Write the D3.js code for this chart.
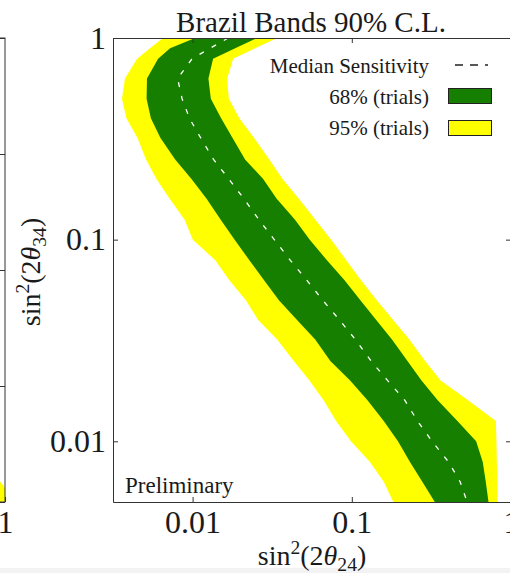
<!DOCTYPE html>
<html>
<head>
<meta charset="utf-8">
<script src="https://cdn.jsdelivr.net/npm/d3@7"></script>
<style>
  html, body { margin: 0; padding: 0; background: #fff; }
  svg { display: block; }
  text { font-family: "Liberation Serif", "DejaVu Serif", serif; fill: #1a1a1a; }
</style>
</head>
<body>
<svg id="chart" width="510" height="573"></svg>
<script>
// sin^2(2θ34) grid on which the sensitivity contours are evaluated
const sin2t34 = [1, 0.89, 0.79, 0.63, 0.50, 0.40, 0.32, 0.25, 0.20, 0.16, 0.126, 0.100,
  0.079, 0.063, 0.050, 0.040, 0.032, 0.025, 0.020, 0.016, 0.0126, 0.0100, 0.0079, 0.0063, 0.0050];

// sin^2(2θ24) reach: 95% band edges, 68% band edges and median
const band95Low = [0.00652, 0.00540, 0.00448, 0.00376, 0.00360, 0.00384, 0.00450, 0.00510, 0.00593,
  0.00716, 0.00889, 0.01003, 0.01389, 0.01697, 0.02161, 0.02581, 0.0340, 0.0432, 0.0542, 0.0665,
  0.0797, 0.0987, 0.1300, 0.1587, 0.1824];
const band68Low = [0.01037, 0.00722, 0.00607, 0.00517, 0.00514, 0.00547, 0.00627, 0.00777, 0.00984,
  0.01221, 0.01498, 0.01837, 0.02273, 0.02804, 0.03484, 0.0453, 0.0589, 0.0733, 0.0976, 0.1255,
  0.1587, 0.1950, 0.2319, 0.2772, 0.3322];
const medianSens = [0.01673, 0.01289, 0.00993, 0.00805, 0.00859, 0.00955, 0.01123, 0.01353, 0.01687,
  0.02093, 0.02604, 0.03260, 0.0411, 0.0521, 0.0658, 0.0836, 0.1052, 0.1322, 0.1680, 0.2151,
  0.2586, 0.3194, 0.4051, 0.4792, 0.5302];
const band68High = [0.02544, 0.01851, 0.01345, 0.01257, 0.01302, 0.01511, 0.01779, 0.02136, 0.02776,
  0.03365, 0.04386, 0.05443, 0.0698, 0.0898, 0.1132, 0.1424, 0.1788, 0.2237, 0.2740, 0.3464,
  0.4608, 0.6040, 0.6646, 0.6943, 0.7222];
const band95High = [0.0340, 0.02471, 0.01798, 0.01648, 0.01689, 0.01966, 0.02429, 0.03033, 0.03671,
  0.0464, 0.0589, 0.0742, 0.0923, 0.1139, 0.1436, 0.1819, 0.2299, 0.2887, 0.3613, 0.5373,
  0.8035, 0.8100, 0.8150, 0.8200, 0.8230];

// tick values
const xTicks = [0.01, 0.1, 1];
const yTicks = [0.01, 0.1, 1];
const tickText = { 0.01: "0.01", 0.1: "0.1", 1: "1" };

// neighbouring panel (only its right edge shows): 95% band corner near sin^2 = 1
const sidePanelX = [0.90, 0.93, 0.96, 1.0];
const sidePanelTop = [0.0155, 0.0150, 0.0142, 0.0132];
const sidePanelYTicks = [0.01, 0.1, 1, 10, 100];

const legendItems = ["Median Sensitivity", "68% (trials)", "95% (trials)"];

const GREEN = "#167f00", YELLOW = "#ffff00", AXIS = "#333";

const svg = d3.select("#chart");

// faint strip along the bottom edge
svg.append("rect").attr("x", 0).attr("y", 568).attr("width", 510).attr("height", 5).attr("fill", "#f3f3f3");

const L = 113, R = 511, T = 38, B = 502;
const x = d3.scaleLog().domain([Math.pow(10, -2.5), 1]).range([L, R]);
const y = d3.scaleLog().domain([0.005, 1]).range([B, T]);

// ---- side panel fragment (shares the same frame size, shifted left) ----
const W = R - L;
const xs = d3.scaleLog().domain([Math.pow(10, -2.5), 1]).range([5 - W, 5]);
const ys = d3.scaleLog().domain([0.01, 100]).range([B, T]);
svg.append("clipPath").attr("id", "clipSide").append("rect")
  .attr("x", 5 - W).attr("y", T).attr("width", W).attr("height", B - T);
const sideData = sidePanelX.map((v, i) => ({ x: v, top: sidePanelTop[i] }));
svg.append("path")
  .attr("clip-path", "url(#clipSide)")
  .attr("fill", YELLOW)
  .attr("d", d3.area().x(d => xs(d.x)).y0(ys(0.01)).y1(d => ys(d.top)).curve(d3.curveMonotoneX)(sideData));
svg.append("rect").attr("x", 5 - W).attr("y", T).attr("width", W).attr("height", B - T)
  .attr("fill", "none").attr("stroke", AXIS).attr("stroke-width", 1);
svg.append("g").attr("transform", `translate(5,0)`)
  .call(d3.axisRight(ys).tickValues(sidePanelYTicks).tickSize(-5).tickFormat(""))
  .call(g => g.select(".domain").remove())
  .call(g => g.selectAll("line").attr("stroke", AXIS));
svg.append("g").attr("transform", `translate(0,${B})`)
  .call(d3.axisBottom(xs).tickValues([1]).tickSize(-5).tickPadding(8).tickFormat(d => tickText[d]))
  .call(g => g.select(".domain").remove())
  .call(g => g.selectAll("line").attr("stroke", AXIS))
  .call(g => g.selectAll("text").attr("font-size", 32).attr("fill", "#1a1a1a")
    .attr("font-family", '"Liberation Serif", serif'));

// ---- main panel ----
svg.append("clipPath").attr("id", "clipMain").append("rect")
  .attr("x", L).attr("y", T).attr("width", R - L).attr("height", B - T);

const rows = sin2t34.map((s, i) => ({
  s, lo95: band95Low[i], lo68: band68Low[i], med: medianSens[i], hi68: band68High[i], hi95: band95High[i]
}));

const plot = svg.append("g").attr("clip-path", "url(#clipMain)");

plot.append("path").attr("fill", YELLOW)
  .attr("d", d3.area().y(d => y(d.s)).x0(d => x(d.lo95)).x1(d => x(d.hi95))(rows));
plot.append("path").attr("fill", GREEN)
  .attr("d", d3.area().y(d => y(d.s)).x0(d => x(d.lo68)).x1(d => x(d.hi68))(rows));
plot.append("path").attr("fill", "none").attr("stroke", "#fff").attr("stroke-width", 1.3)
  .attr("stroke-dasharray", "5,9")
  .attr("d", d3.line().x(d => x(d.med)).y(d => y(d.s))(rows));

// frame + inward ticks
const styleAxis = g => {
  g.select(".domain").attr("stroke", AXIS).attr("stroke-width", 1);
  g.selectAll(".tick line").attr("stroke", AXIS);
  g.selectAll(".tick text").attr("font-size", 32).attr("fill", "#1a1a1a")
    .attr("font-family", '"Liberation Serif", serif');
};
svg.append("g").attr("transform", `translate(0,${B})`)
  .call(d3.axisBottom(x).tickValues(xTicks).tickSizeInner(-5).tickSizeOuter(0).tickPadding(8)
    .tickFormat(d => tickText[d])).call(styleAxis);
svg.append("g").attr("transform", `translate(0,${T})`)
  .call(d3.axisTop(x).tickValues(xTicks).tickSizeInner(-5).tickSizeOuter(0).tickFormat("")).call(styleAxis);
svg.append("g").attr("transform", `translate(${L},0)`)
  .call(d3.axisLeft(y).tickValues(yTicks).tickSizeInner(-5).tickSizeOuter(0).tickPadding(7)
    .tickFormat(d => tickText[d])).call(styleAxis);
svg.append("g").attr("transform", `translate(${R},0)`)
  .call(d3.axisRight(y).tickValues(yTicks).tickSizeInner(-5).tickSizeOuter(0).tickFormat("")).call(styleAxis);

// title
svg.append("text").attr("x", 311).attr("y", 32).attr("text-anchor", "middle")
  .attr("font-size", 29).text("Brazil Bands 90% C.L.");

// axis titles with super/subscripts
function mathLabel(sel, sub) {
  sel.append("tspan").text("sin");
  sel.append("tspan").attr("font-size", "70%").attr("dy", -11).text("2");
  sel.append("tspan").attr("dy", 11).text("(2");
  sel.append("tspan").attr("font-style", "italic").text("θ");
  sel.append("tspan").attr("font-size", "70%").attr("dy", 6).text(sub);
  sel.append("tspan").attr("dy", -6).text(")");
}
svg.append("text").attr("x", 312).attr("y", 565).attr("text-anchor", "middle")
  .attr("font-size", 28).call(mathLabel, "24");
svg.append("text").attr("transform", "translate(40,272) rotate(-90)").attr("text-anchor", "middle")
  .attr("font-size", 28).call(mathLabel, "34");

// "Preliminary" tag
svg.append("text").attr("x", 125).attr("y", 493).attr("font-size", 23).text("Preliminary");

// legend
const legendY = [73, 104, 135];
legendItems.forEach((t, i) => {
  svg.append("text").attr("x", 429).attr("y", legendY[i]).attr("text-anchor", "end")
    .attr("font-size", 21).text(t);
});
svg.append("line").attr("x1", 455).attr("x2", 488).attr("y1", 65).attr("y2", 65)
  .attr("stroke", "#222").attr("stroke-width", 1.3).attr("stroke-dasharray", "8,7");
svg.append("rect").attr("x", 448.5).attr("y", 88.5).attr("width", 43).attr("height", 15)
  .attr("fill", GREEN).attr("stroke", "#222").attr("stroke-width", 1);
svg.append("rect").attr("x", 448.5).attr("y", 120.5).attr("width", 43).attr("height", 15)
  .attr("fill", YELLOW).attr("stroke", "#222").attr("stroke-width", 1);
</script>
</body>
</html>
